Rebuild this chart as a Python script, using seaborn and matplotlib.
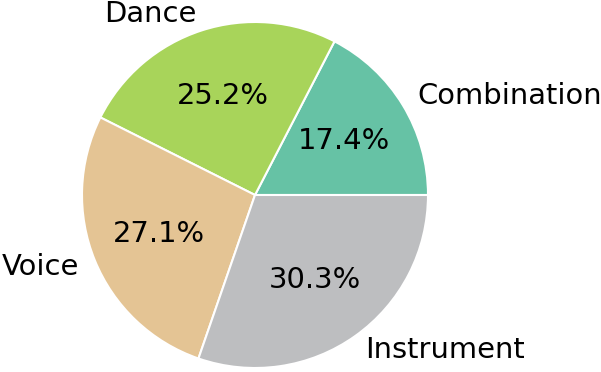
import matplotlib
matplotlib.use("Agg")
import matplotlib.pyplot as plt
import seaborn as sns

categories = ["Combination", "Dance", "Voice", "Instrument"]
shares = [17.4, 25.2, 27.1, 30.3]
colors = ["#66c2a5", "#a8d45a", "#e4c494", "#bdbec0"]

sns.set_style("white")
plt.rcParams['font.family'] = ['DejaVu Sans']

fig = plt.figure(figsize=(6.01, 3.72), dpi=100)
ax = fig.add_axes([0, 0, 1, 1])
wedges, texts, autotexts = ax.pie(
    shares, labels=categories, colors=colors, autopct="%.1f%%",
    startangle=0, counterclock=True,
    wedgeprops=dict(edgecolor="white", linewidth=1.5),
    textprops=dict(fontsize=20.9, color="black"),
    radius=1.0, frame=False,
)
r = 173.0
ax.set_aspect("auto")
ax.set_xlim(-255 / r, (601 - 255) / r)
ax.set_ylim(-(372 - 195) / r, 195 / r)
ax.axis("off")
fig.savefig("out.png", dpi=100)
